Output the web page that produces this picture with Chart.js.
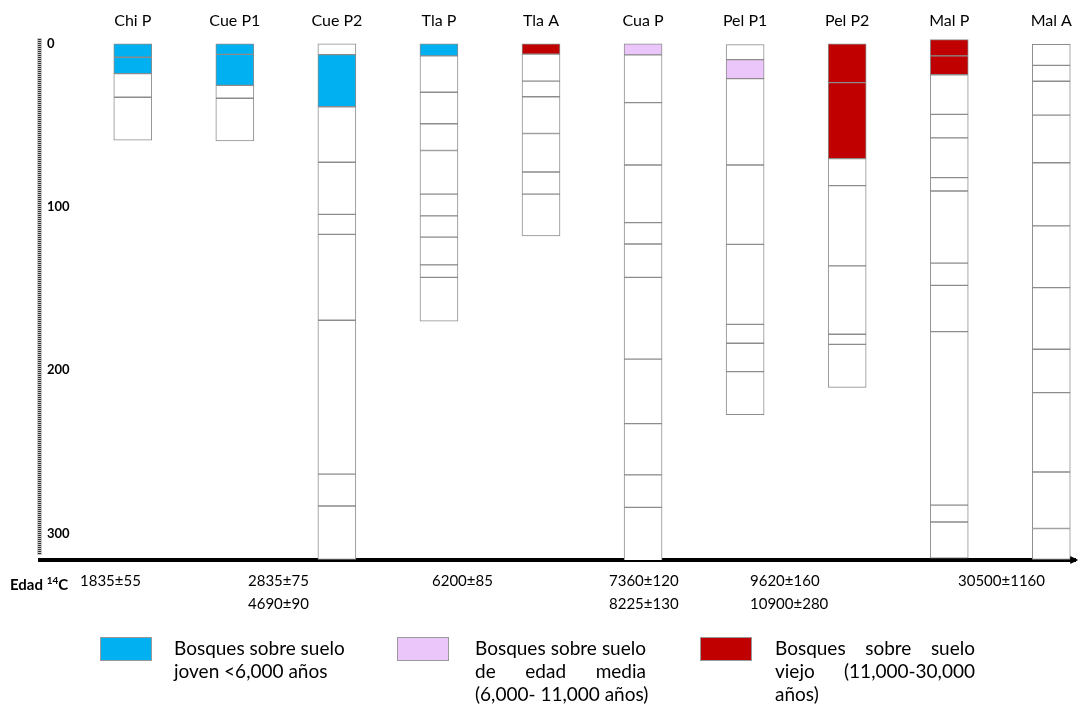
<!DOCTYPE html>
<html>
<head>
<meta charset="utf-8">
<script src="https://cdn.jsdelivr.net/npm/chart.js@4.4.0/dist/chart.umd.min.js"></script>
<style>
  body { margin: 0; background: #fff; font-family: Lato, sans-serif; color: #000; }
  #wrap { position: relative; width: 1081px; height: 705px; overflow: hidden; }
  canvas { position: absolute; left: 0; top: 0; }
  .age { position: absolute; font-size: 15px; line-height: 18px; white-space: nowrap; }
  .box { position: absolute; width: 52px; height: 24px; border: 1px solid #9a9a9a; box-sizing: border-box; }
  .legtext { position: absolute; font-size: 19px; line-height: 23px; }
  .legtext div { white-space: nowrap; text-align: justify; text-align-last: justify; }
  .legtext div.last { text-align-last: left; }
</style>
</head>
<body>
<div id="wrap">
  <canvas id="chart" width="1081" height="705"></canvas>
</div>
<script>
const profiles = ["Chi P", "Cue P1", "Cue P2", "Tla P", "Tla A", "Cua P", "Pel P1", "Pel P2", "Mal P", "Mal A"];
const yTicks = [0, 100, 200, 300];

// layer boundaries (cm), top to bottom, one array per profile
const chiP  = [0, 8.3, 18.3, 32.8, 59.1];
const cueP1 = [0, 6.5, 25.5, 33.4, 59.6];
const cueP2 = [0, 6.7, 38.6, 72.6, 104.5, 116.8, 169.4, 263.7, 283.2, 316];
const tlaP  = [0, 7.4, 29.7, 49, 65.4, 92.1, 105.5, 118.5, 135.5, 143.1, 169.9];
const tlaA  = [0, 6.4, 22.9, 32.5, 55, 78.6, 92.1, 117.8];
const cuaP  = [0, 6.8, 36.1, 74.3, 109.6, 122.7, 143.1, 193.2, 232.7, 264.1, 284.1, 317];
const pelP1 = [0.5, 9.7, 21.4, 74.3, 122.9, 171.9, 183.5, 200.9, 227.2];
const pelP2 = [0, 23.8, 70.4, 86.9, 136.1, 178, 184.2, 210.5];
const malP  = [-2.5, 7.4, 19, 43.3, 57.7, 82, 90.2, 134.4, 148, 176.4, 282.7, 293, 315.2];
const malA  = [0.4, 13.3, 23, 43.7, 72.9, 111.6, 149.4, 187.2, 213.8, 262.4, 297, 316];

// soil age of the forest per layer: J joven, M media, V viejo, "" none
const chiPSoil  = ["J", "J", "", ""];
const cueP1Soil = ["J", "J", "", ""];
const cueP2Soil = ["", "J", "", "", "", "", "", "", ""];
const tlaPSoil  = ["J", "", "", "", "", "", "", "", "", ""];
const tlaASoil  = ["V", "", "", "", "", "", ""];
const cuaPSoil  = ["M", "", "", "", "", "", "", "", "", "", ""];
const pelP1Soil = ["", "M", "", "", "", "", "", ""];
const pelP2Soil = ["V", "V", "", "", "", "", ""];
const malPSoil  = ["V", "V", "", "", "", "", "", "", "", "", "", ""];
const malASoil  = ["", "", "", "", "", "", "", "", "", "", ""];

const ageRow1 = ["1835±55", "2835±75", "6200±85", "7360±120", "9620±160", "30500±1160"];
const ageRow2 = ["", "4690±90", "", "8225±130", "10900±280", ""];

const legendLabels = [
    ["Bosques sobre suelo", "joven <6,000 años"],
    ["Bosques sobre suelo", "de edad media", "(6,000- 11,000 años)"],
    ["Bosques sobre suelo", "viejo (11,000-30,000", "años)"]
];

const depths = [chiP, cueP1, cueP2, tlaP, tlaA, cuaP, pelP1, pelP2, malP, malA];
const soils = [chiPSoil, cueP1Soil, cueP2Soil, tlaPSoil, tlaASoil, cuaPSoil, pelP1Soil, pelP2Soil, malPSoil, malASoil];

const soilColors = { "": "#ffffff", J: "#00b0f0", M: "#ebc6fb", V: "#c00000" };

// one dataset per soil type, each layer is a floating bar
const datasets = Object.keys(soilColors).map(code => {
    const data = [];
    depths.forEach((d, i) => {
        soils[i].forEach((s, j) => {
            if (s === code) data.push({ x: i + 1, y: [d[j], d[j + 1]] });
        });
    });
    return {
        data: data,
        backgroundColor: soilColors[code],
        borderColor: "#8c8c8c",
        borderWidth: 1,
        borderSkipped: false,
        barThickness: 38,
        grouped: false
    };
});

// arrow head on the bottom line and the ruler look of the depth axis
const decoPlugin = {
    id: "deco",
    beforeDatasetsDraw(chart) {
        const { ctx, chartArea: a } = chart;
        ctx.save();
        ctx.fillStyle = "#c8c8c8";
        ctx.fillRect(a.left - 3, a.top - 1, 5, a.bottom - a.top - 4);
        ctx.fillStyle = "#333";
        for (let y = a.top; y < a.bottom - 5; y += 2) {
            ctx.fillRect(a.left - 2, y, 3, 1);
        }
        ctx.restore();
    },
    afterDraw(chart) {
        const { ctx, chartArea: a } = chart;
        ctx.save();
        ctx.fillStyle = "#000";
        ctx.beginPath();
        ctx.moveTo(a.right + 3, a.bottom);
        ctx.lineTo(a.right - 5, a.bottom - 4);
        ctx.lineTo(a.right - 5, a.bottom + 4);
        ctx.closePath();
        ctx.fill();
        ctx.restore();
    }
};

Chart.defaults.font.family = "Lato, sans-serif";

new Chart(document.getElementById("chart"), {
    type: "bar",
    data: { datasets: datasets },
    options: {
        responsive: false,
        animation: false,
        layout: { padding: { left: 40, right: 3, top: 0, bottom: 145 } },
        plugins: { legend: { display: false }, tooltip: { enabled: false } },
        scales: {
            x: {
                type: "linear",
                position: "top",
                offset: false,
                min: 0.091,
                max: 10.235,
                grid: { display: false, drawTicks: false },
                border: { display: false },
                ticks: {
                    padding: 9,
                    autoSkip: false,
                    maxRotation: 0,
                    color: "#000",
                    font: { size: 16 },
                    callback: v => profiles[v - 1]
                },
                afterBuildTicks: axis => { axis.ticks = profiles.map((p, i) => ({ value: i + 1 })); },
                afterFit: axis => { axis.height = 39; }
            },
            x2: {
                type: "linear",
                position: "bottom",
                offset: false,
                grid: { display: false, drawTicks: false },
                ticks: { display: false },
                border: { display: true, color: "#000", width: 4 },
                afterFit: axis => { axis.height = 0; }
            },
            y: {
                reverse: true,
                min: -2.9,
                max: 316.3,
                grid: { display: false, drawTicks: false },
                border: { display: false },
                ticks: {
                    mirror: true,
                    padding: 7,
                    color: "#000",
                    font: { size: 13, weight: "bold" }
                },
                afterBuildTicks: axis => { axis.ticks = yTicks.map(v => ({ value: v })); },
                afterFit: axis => { axis.width = 0; }
            }
        }
    },
    plugins: [decoPlugin]
});

// radiocarbon ages under the axis
const wrap = document.getElementById("wrap");
const ageX = [80, 248, 432, 609, 750, 958];

const edad = document.createElement("div");
edad.className = "age";
edad.style.left = "10px";
edad.style.top = "571px";
edad.innerHTML = "<b>Edad <sup style='font-size:10px'>14</sup>C</b>";
wrap.appendChild(edad);

[ageRow1, ageRow2].forEach((row, r) => {
    row.forEach((txt, i) => {
        if (!txt) return;
        const el = document.createElement("div");
        el.className = "age";
        el.style.left = ageX[i] + "px";
        el.style.top = (571 + r * 23) + "px";
        el.textContent = txt;
        wrap.appendChild(el);
    });
});

// legend
const legendColors = [soilColors.J, soilColors.M, soilColors.V];
const boxX = [100, 397, 700];
const textX = [174, 475, 775];
const textW = [172, 171, 200];

legendLabels.forEach((lines, i) => {
    const box = document.createElement("div");
    box.className = "box";
    box.style.left = boxX[i] + "px";
    box.style.top = "637px";
    box.style.background = legendColors[i];
    wrap.appendChild(box);

    const t = document.createElement("div");
    t.className = "legtext";
    t.style.left = textX[i] + "px";
    t.style.top = "636px";
    t.style.width = textW[i] + "px";
    t.innerHTML = lines.map((l, j) =>
        `<div class="${j === lines.length - 1 || i === 0 ? "last" : ""}">${l}</div>`).join("");
    wrap.appendChild(t);
});
</script>
</body>
</html>
